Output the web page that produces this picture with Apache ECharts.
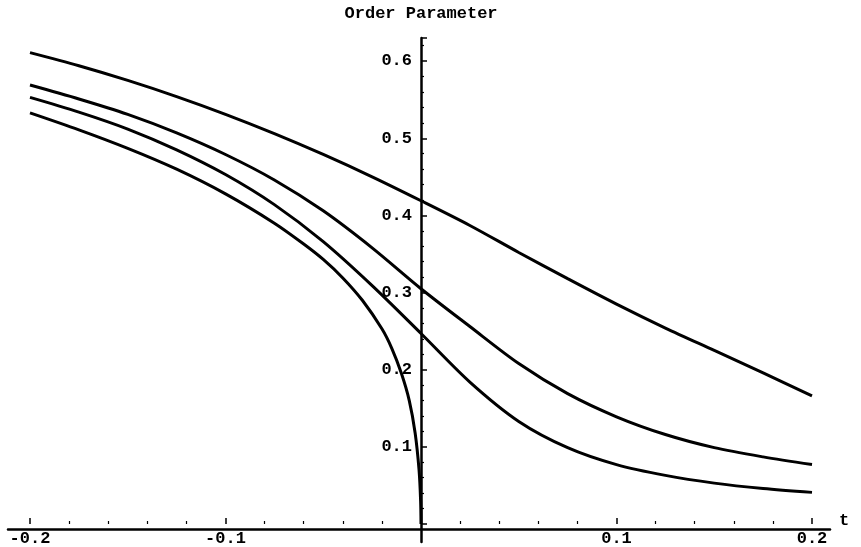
<!DOCTYPE html>
<html>
<head>
<meta charset="utf-8">
<script src="https://cdn.jsdelivr.net/npm/echarts@6/dist/echarts.min.js"></script>
<style>html,body{margin:0;padding:0;background:#fff}#c{width:861px;height:547px}</style>
</head>
<body>
<div id="c"></div>
<script>
// shared t values for the three upper curves
const tVals = [-0.2,-0.175,-0.15,-0.125,-0.1,-0.075,-0.05,-0.025,0,0.025,0.05,0.075,0.1,0.125,0.15,0.175,0.2];
const curveA = [0.611,0.594,0.575,0.554,0.531,0.506,0.479,0.450,0.419,0.387,0.352,0.318,0.285,0.254,0.225,0.196,0.166];
const curveB = [0.569,0.551,0.531,0.507,0.479,0.446,0.406,0.358,0.305,0.256,0.208,0.169,0.139,0.116,0.099,0.087,0.077];
const curveC = [0.553,0.534,0.512,0.485,0.453,0.414,0.366,0.309,0.247,0.184,0.133,0.099,0.077,0.063,0.053,0.046,0.041];
// lowest curve, ends at t = 0
const tD = [-0.2,-0.175,-0.15,-0.125,-0.1,-0.075,-0.06,-0.05,-0.04,-0.03,-0.02,-0.015,-0.01,-0.006,-0.003,-0.001,-0.0002,0];
const curveD = [0.533,0.511,0.487,0.460,0.428,0.390,0.363,0.343,0.319,0.290,0.253,0.228,0.195,0.160,0.118,0.070,0.030,0];

const xLabels = ['-0.2','-0.1','0.1','0.2'];
const yLabels = ['0.1','0.2','0.3','0.4','0.5','0.6'];
const titleText = 'Order Parameter';
const xName = 't';

function pairs(xs, ys){ return xs.map((x,i)=>[x, ys[i]]); }
function fmt(list){
  return function(v){
    if (Math.abs(v*10 - Math.round(v*10)) > 1e-6) return '';
    const s = (Math.round(v*10)/10).toFixed(1);
    return list.indexOf(s) >= 0 ? s : '';
  };
}
const font = 'Liberation Mono';
const lab = {fontFamily: font, fontSize: 17, fontWeight: 'bold', color: '#000'};

const chart = echarts.init(document.getElementById('c'), null, {renderer: 'canvas'});
const lineStyle = {color: '#000', width: 3};
const mk = (data) => ({type: 'line', xAxisIndex: 0, yAxisIndex: 0, data: data, showSymbol: false, smooth: 0.3, lineStyle: lineStyle, itemStyle: {color: '#000'}});

chart.setOption({
  animation: false,
  backgroundColor: '#fff',
  grid: [
    {left: 30, right: 49, top: 38, bottom: 18},
    {left: 8, right: 31, top: 38, bottom: 5}
  ],
  xAxis: [
    {gridIndex: 0, type: 'value', min: -0.2, max: 0.2, interval: 0.1,
     axisLine: {show: false, onZero: false},
     axisTick: {show: true, inside: true, length: 6, lineStyle: {color: '#000', width: 1.5}},
     minorTick: {show: true, splitNumber: 5, length: 3, lineStyle: {color: '#000', width: 1.2}},
     splitLine: {show: false},
     axisLabel: Object.assign({margin: 6, formatter: fmt(xLabels)}, lab)},
    {gridIndex: 1, type: 'value', min: -0.2113, max: 0.2092,
     axisLine: {show: true, onZero: true, lineStyle: {color: '#000', width: 2.5}},
     axisTick: {show: false}, axisLabel: {show: false}, splitLine: {show: false},
     name: xName, nameLocation: 'end', nameGap: 9,
     nameTextStyle: {fontFamily: font, fontSize: 17, fontWeight: 'bold', color: '#000', verticalAlign: 'bottom'}}
  ],
  yAxis: [
    {gridIndex: 0, type: 'value', min: 0, max: 0.63, interval: 0.1,
     position: 'left', offset: -391,
     axisLine: {show: false, onZero: false},
     axisTick: {show: true, inside: true, length: 6, lineStyle: {color: '#000', width: 1.5}},
     minorTick: {show: true, splitNumber: 5, length: 3, lineStyle: {color: '#000', width: 1.2}},
     splitLine: {show: false},
     axisLabel: Object.assign({margin: 9, formatter: fmt(yLabels)}, lab)},
    {gridIndex: 1, type: 'value', min: -0.01667, max: 0.63,
     axisLine: {show: true, onZero: true, lineStyle: {color: '#000', width: 2.5}},
     axisTick: {show: false}, axisLabel: {show: false}, splitLine: {show: false},
     name: titleText, nameLocation: 'end', nameGap: 16,
     nameTextStyle: {fontFamily: font, fontSize: 17, fontWeight: 'bold', color: '#000'}}
  ],
  series: [
    mk(pairs(tVals, curveA)),
    mk(pairs(tVals, curveB)),
    mk(pairs(tVals, curveC)),
    mk(pairs(tD, curveD))
  ]
});
</script>
</body>
</html>
